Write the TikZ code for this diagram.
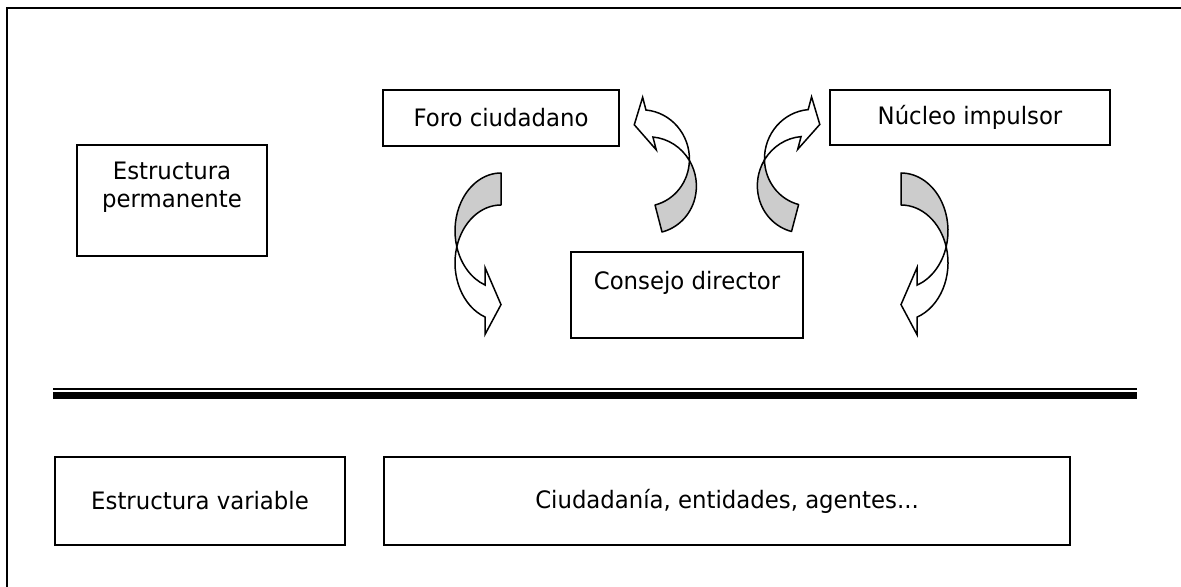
\documentclass[tikz,border=0pt]{standalone}
\usepackage{fontspec}
\setmainfont{DejaVu Sans}[FakeStretch=0.95]
% curved arrow: #1 x radius, #2 y radius, #3 band width, #4 head length, #5 head width, #6 transform
\newcommand\cvarrow[6]{%
  \begin{scope}[#6]
    \pgfmathsetmacro\cvb{asin(#3/(2*#2))}
    \pgfmathsetmacro\cvg{180+acos(#4/#1)}
    \pgfmathsetmacro\cvdy{#2*sqrt(1-(#4/#1)^2)}
    \pgfmathsetmacro\cvdh{(#5-#3)/2}
    \filldraw[arrback] (0,0)
      arc[start angle=90, end angle={180+\cvb}, x radius=#1, y radius=#2]
      arc[start angle={180-\cvb}, end angle=90, x radius=#1, y radius=#2] -- cycle;
    \filldraw[arrfront] ({-#1*cos(\cvb)}, {-#2-#3/2})
      arc[start angle={180+\cvb}, end angle=\cvg, x radius=#1, y radius=#2]
      -- ({-#4}, {-#2-\cvdy+\cvdh})
      -- (0, {-2*#2-#3/2})
      -- ({-#4}, {-#2-#3-\cvdy-\cvdh})
      -- ({-#4}, {-#2-#3-\cvdy})
      arc[start angle=\cvg, end angle={180-\cvb}, x radius=#1, y radius=#2] -- cycle;
  \end{scope}}
\begin{document}
\begin{tikzpicture}[x=0.5pt,y=0.5pt,
  boxst/.style={draw, line width=1pt, inner sep=0pt, font=\fontsize{12}{14}\selectfont},
  txtst/.style={inner sep=0pt, font=\fontsize{12}{14}\selectfont},
  arrback/.style={fill=black!20, draw, line width=0.75pt, line join=round},
  arrfront/.style={fill=white, draw, line width=0.75pt, line join=miter},
  thinrule/.style={line width=1pt},
  thickrule/.style={line width=3.3pt}]
\useasboundingbox (0,0) rectangle (1181,-587);
% outer frame (right and bottom sides lie outside the picture)
\draw[line width=1pt] (7,-587) -- (7,-8) -- (1181,-8);
% boxes
\node[boxst, minimum width=118pt, minimum height=28pt] (foro) at (501,-118) {Foro ciudadano};
\node[boxst, minimum width=140pt, minimum height=27.5pt] (nucleo) at (970,-117.5) {Núcleo impulsor};
\node[boxst, minimum width=116pt, minimum height=43pt] (consejo) at (687,-295) {};
\node[txtst] (consejotxt) at (687,-283) {Consejo director};
\node[boxst, minimum width=95pt, minimum height=55.5pt] (perm) at (172,-200.5) {};
\node[txtst, anchor=base] (perm1) at (172,-180) {Estructura};
\node[txtst, anchor=base] (perm2) at (172,-208) {permanente};
\node[boxst, minimum width=145pt, minimum height=44pt] (var) at (200,-501) {Estructura variable};
\node[boxst, minimum width=343pt, minimum height=44pt] (ciud) at (727,-501) {Ciudadanía, entidades, agentes...};
% separator
\coordinate (sepL) at (53,-388.5);
\coordinate (sepR) at (1137,-388.5);
\draw[thinrule] (sepL) -- (sepR);
\draw[thickrule] ([yshift=-3.6pt]sepL) -- ([yshift=-3.6pt]sepR);
% curved arrows
\cvarrow{46}{57.8}{32}{16}{67}{shift={(501,-173)}}
\cvarrow{47}{57.8}{32}{16}{67}{shift={(901,-173)},xscale=-1}
\cvarrow{46.4}{48.4}{27.9}{15}{54.3}{shift={(662,-232)},rotate=194.5}
\cvarrow{46.4}{48.4}{27.9}{15}{54.3}{shift={(791.5,-231.5)},rotate=-14.8,yscale=-1}
\end{tikzpicture}
\end{document}
